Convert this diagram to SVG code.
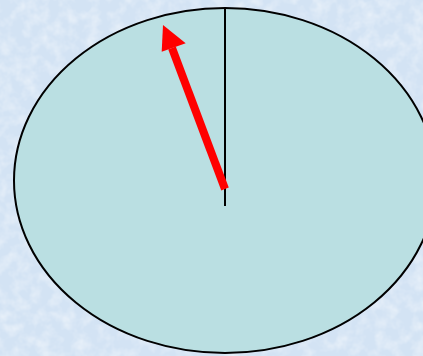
<svg xmlns="http://www.w3.org/2000/svg" width="423" height="356" viewBox="0 0 423 356">
  <defs>
    <filter id="tex" x="0" y="0" width="100%" height="100%">
      <feTurbulence type="fractalNoise" baseFrequency="0.08" numOctaves="3" seed="4" result="n"/>
      <feColorMatrix in="n" type="matrix" values="0 0 0 0 1  0 0 0 0 1  0 0 0 0 1  0 0 0 0.9 -0.35" result="w"/>
      <feComposite in="w" in2="SourceGraphic" operator="in"/>
    </filter>
    <style>
      .bg { fill: #d3e3f4; }
      .dial { fill: #badfe2; stroke: #000; stroke-width: 2; }
      .tick { stroke: #000; stroke-width: 2; fill: none; }
      .hand { stroke: #ff0000; stroke-width: 8; fill: none; }
      .head { fill: #ff0000; }
    </style>
  </defs>
  <rect class="bg" x="0" y="0" width="423" height="356"/>
  <rect x="0" y="0" width="423" height="356" fill="#d3e3f4" filter="url(#tex)"/>
  <g id="dial">
    <ellipse class="dial" cx="225" cy="180.5" rx="211" ry="172.5"/>
  </g>
  <g id="connectors">
    <line class="tick" x1="225" y1="8" x2="225" y2="206"/>
    <line class="hand" x1="225" y1="189" x2="172" y2="48"/>
    <polygon class="head" points="163,25 161.7,51.7 185.7,43.3"/>
  </g>
</svg>
